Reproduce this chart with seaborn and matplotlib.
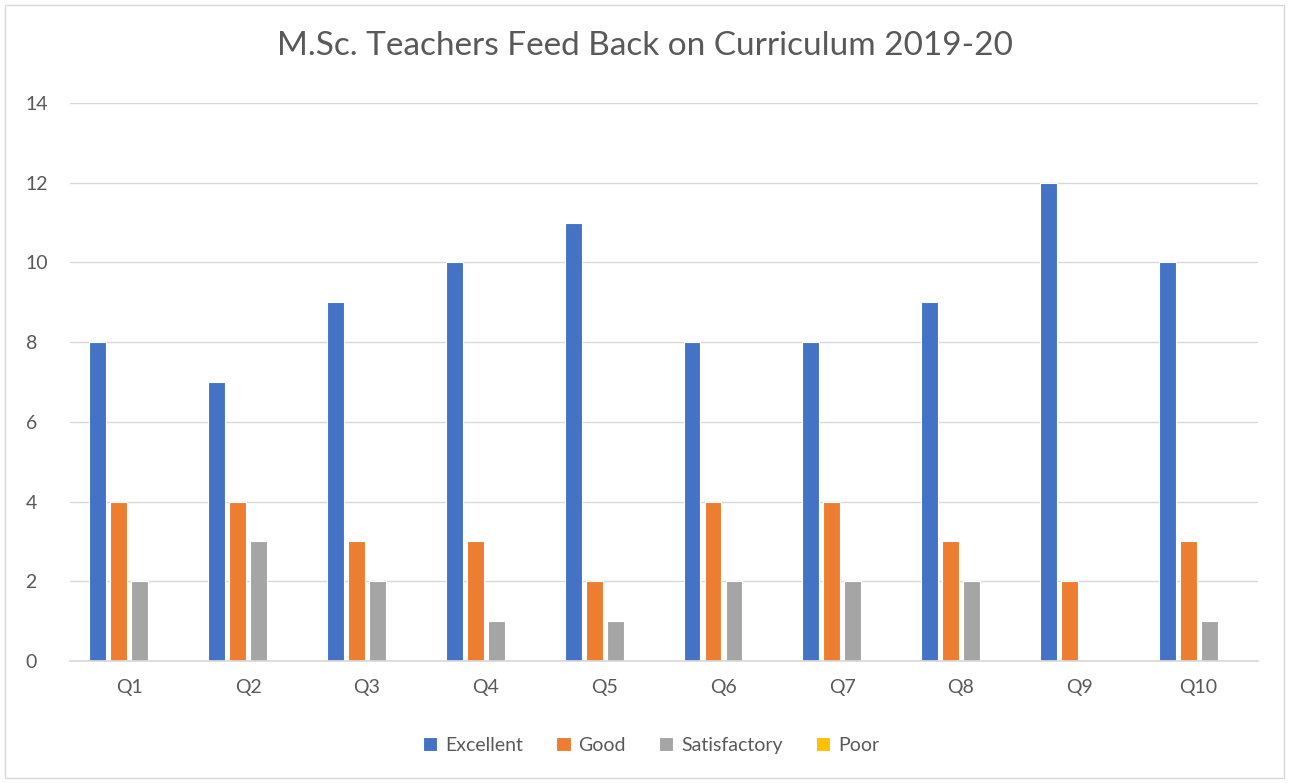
import numpy as np
import pandas as pd
import seaborn as sns
import matplotlib.pyplot as plt
from matplotlib.patches import Rectangle

questions = ["Q1", "Q2", "Q3", "Q4", "Q5", "Q6", "Q7", "Q8", "Q9", "Q10"]
ratings = ["Excellent", "Good", "Satisfactory", "Poor"]
excellent = [8, 7, 9, 10, 11, 8, 8, 9, 12, 10]
good = [4, 4, 3, 3, 2, 4, 4, 3, 2, 3]
satisfactory = [2, 3, 2, 1, 1, 2, 2, 2, 0, 1]
poor = [0, 0, 0, 0, 0, 0, 0, 0, 0, 0]
colors = ["#4472c4", "#ed7d31", "#a5a5a5", "#ffc000"]

df = pd.DataFrame({
    "Question": questions * 4,
    "Rating": np.repeat(ratings, len(questions)),
    "Count": excellent + good + satisfactory + poor,
})

sns.set_theme(style="white")
plt.rcParams["font.family"] = ["Lato", "DejaVu Sans"]
text_col = "#595959"

fig = plt.figure(figsize=(12.89, 7.83), dpi=100)
ax = fig.add_axes([0.0543, 0.1558, 0.9217, 0.7127])

sns.barplot(data=df, x="Question", y="Count", hue="Rating", order=questions,
            hue_order=ratings, palette=colors, width=0.707, gap=0.2,
            edgecolor="white", linewidth=0.8, saturation=1, ax=ax)

ax.set_ylim(0, 14)
ax.set_yticks(range(0, 15, 2))
ax.yaxis.grid(True, color="#d9d9d9", linewidth=1)
ax.set_axisbelow(True)
for s in ["top", "right", "left"]:
    ax.spines[s].set_visible(False)
ax.spines["bottom"].set_color("#d9d9d9")
ax.tick_params(axis="both", length=0, labelsize=14, colors=text_col, pad=13)
ax.tick_params(axis="y", pad=32)
for lab in ax.get_yticklabels():
    lab.set_horizontalalignment("left")
ax.set_xlabel("")
ax.set_ylabel("")

fig.suptitle("M.Sc. Teachers Feed Back on Curriculum 2019-20", y=0.96,
             fontsize=24, color=text_col)

handles, labels = ax.get_legend_handles_labels()
ax.legend_.remove()
fig.legend(handles, labels, loc="center", bbox_to_anchor=(0.505, 0.048), ncol=4,
           frameon=False, fontsize=14, labelcolor=text_col, handlelength=0.75,
           handleheight=0.75, handletextpad=0.4, columnspacing=1.7)

fig.patches.append(Rectangle((0.004, 0.006), 0.992, 0.988, transform=fig.transFigure,
                             fill=False, edgecolor="#d9d9d9", linewidth=1))

fig.savefig("out.png", dpi=100)
